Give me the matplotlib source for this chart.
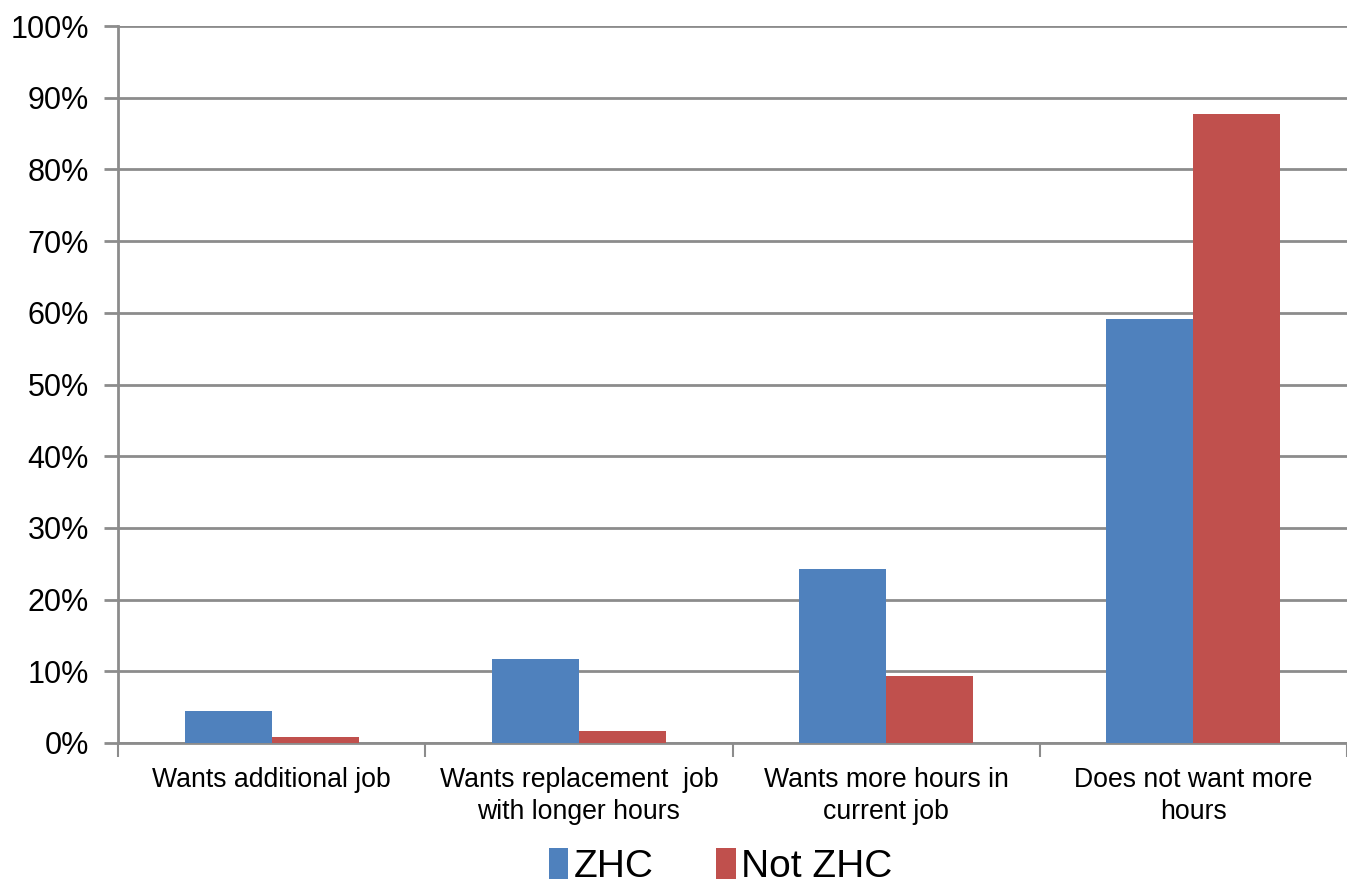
import matplotlib
matplotlib.use("Agg")

import matplotlib.pyplot as plt
import numpy as np
from matplotlib.ticker import PercentFormatter

categories = [
    "Wants additional job",
    "Wants replacement  job\nwith longer hours",
    "Wants more hours in\ncurrent job",
    "Does not want more\nhours",
]
zhc = [4.5, 11.7, 24.2, 59.2]
not_zhc = [0.8, 1.7, 9.4, 87.7]
series_names = ["ZHC", "Not ZHC"]

plt.rcParams["font.family"] = ["Liberation Sans", "DejaVu Sans"]

grid_col = "#8c8c8c"

fig = plt.figure(figsize=(13.47, 8.89), dpi=100)
ax = fig.add_axes([118 / 1347, 1 - 743 / 889, 1 - 118 / 1347, 717 / 889])

x = np.arange(len(categories))
w = 0.283
ax.bar(x - w / 2, zhc, w, color="#4F81BD", label=series_names[0], zorder=3)
ax.bar(x + w / 2, not_zhc, w, color="#C0504D", label=series_names[1], zorder=3)

ax.set_xlim(-0.5, len(categories) - 0.5)
ax.set_ylim(0, 100)
ax.set_yticks(range(0, 101, 10))
ax.yaxis.set_major_formatter(PercentFormatter(decimals=0))
ax.yaxis.grid(True, color=grid_col, linewidth=2, zorder=0)

ax.set_xticks(x)
ax.set_xticklabels(categories, fontsize=19.2, linespacing=1.3)
ax.set_xticks(np.arange(-0.5, len(categories)), minor=True)
ax.tick_params(axis="x", which="major", length=0, pad=17)
ax.tick_params(axis="x", which="minor", length=10, width=1.5, color=grid_col)
ax.tick_params(axis="y", length=10, width=2, color=grid_col, labelsize=22, pad=11)

for s in ["top", "right"]:
    ax.spines[s].set_visible(False)
for s in ["left", "bottom"]:
    ax.spines[s].set_color(grid_col)
    ax.spines[s].set_linewidth(2)

fig.legend(loc="lower center", bbox_to_anchor=(0.535, -0.035), ncol=2, frameon=False,
           fontsize=28, handlelength=0.5, handleheight=0.85, handletextpad=0.15,
           columnspacing=1.6)

fig.savefig("out.png", dpi=100)
